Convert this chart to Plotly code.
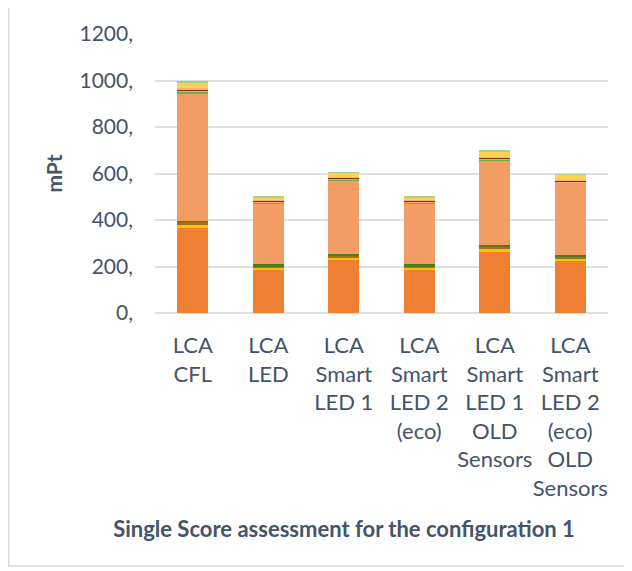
import plotly.graph_objects as go

categories = [
    "LCA<br>CFL",
    "LCA<br>LED",
    "LCA<br>Smart<br>LED 1",
    "LCA<br>Smart<br>LED 2<br>(eco)",
    "LCA<br>Smart<br>LED 1<br>OLD<br>Sensors",
    "LCA<br>Smart<br>LED 2<br>(eco)<br>OLD<br>Sensors",
]

# stacked impact contributions (mPt), bottom to top
s01 = [365, 189, 228, 188, 263, 225]
s02 = [15, 7, 9, 8, 11, 8]
s03 = [12, 5, 12, 5, 13, 12]
s04 = [5, 8, 4, 8, 4, 4]
s05 = [548, 263, 319, 263, 367, 313]
s06 = [7, 4, 4, 3, 3, 1]
s07 = [4, 5, 2, 4, 3, 2]
s08 = [5, 2, 3, 3, 4, 4]
s09 = [8, 4, 4, 4, 5, 4]
s10 = [22, 9, 18, 10, 21, 21]
s11 = [4, 4, 3, 3, 5, 3]

series = [s01, s02, s03, s04, s05, s06, s07, s08, s09, s10, s11]
colors = ["#EE7F33", "#FFC000", "#9C7416", "#4F7A28", "#F29D63",
          "#70AD47", "#F4A27A", "#8B2E10", "#F5B183", "#FFD34D", "#A9D18E"]

fig = go.Figure()
for vals, col in zip(series, colors):
    fig.add_trace(go.Bar(x=categories, y=vals, marker=dict(color=col, line=dict(width=0)),
                         showlegend=False))

font_fam = "Lato, 'Open Sans', sans-serif"
txt_col = "#44546A"
W, H = 624, 563

fig.update_layout(
    barmode="stack",
    bargap=0.59,
    width=W, height=H,
    margin=dict(l=147, r=24, t=24, b=258),
    paper_bgcolor="white",
    plot_bgcolor="white",
    font=dict(family=font_fam, color=txt_col, size=22),
    title=dict(text="<b>Single Score assessment for the configuration 1</b>",
               x=336 / W, xref="container", xanchor="center",
               y=1 - 521 / H, yref="container", yanchor="middle",
               font=dict(size=22, color=txt_col, family=font_fam)),
    xaxis=dict(showgrid=False, showline=False, ticks="", tickfont=dict(size=22, color=txt_col),
               tickangle=0, ticklabelstandoff=17),
    yaxis=dict(range=[0, 1200], dtick=200, ticksuffix=",", showgrid=True,
               gridcolor="#DDDFE3", gridwidth=1.5, zeroline=True, zerolinecolor="#DDDFE3",
               zerolinewidth=1.5, tickfont=dict(size=21, color=txt_col), ticklabelstandoff=21,
               title=dict(text="<b>mPt</b>", font=dict(size=21, color=txt_col), standoff=11)),
    shapes=[dict(type="rect", xref="paper", yref="paper",
                 x0=-0.3229, x1=1.2, y0=-0.907, y1=1.3,
                 line=dict(color="#D9D9D9", width=1.5), fillcolor="rgba(0,0,0,0)", layer="below")],
)

fig.write_html("out.html")
